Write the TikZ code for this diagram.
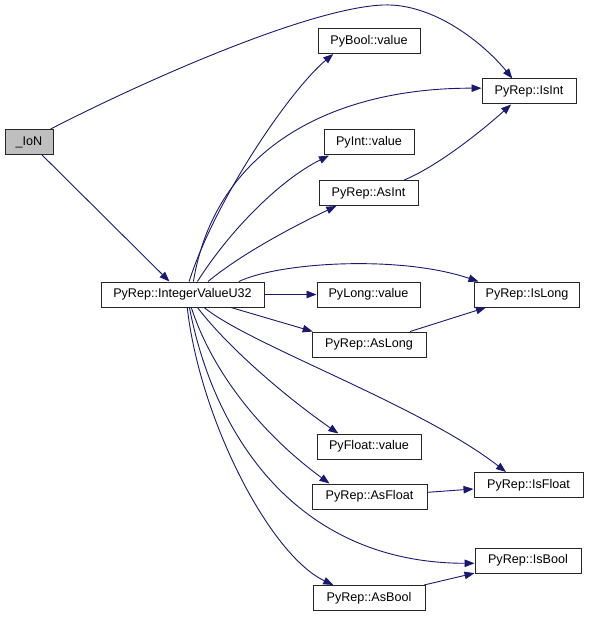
\documentclass[tikz,border=0pt]{standalone}
\usepackage{fontspec}
\setmainfont{Liberation Sans}
\usetikzlibrary{arrows.meta}
\definecolor{edgeblue}{HTML}{191970}
\definecolor{iongray}{HTML}{BFBFBF}
\begin{document}
\begin{tikzpicture}[x=1pt,y=-1pt,
  box/.style={draw=black!85, line width=1pt, rectangle, minimum height=25pt, inner sep=0pt, font=\fontsize{12.6}{14}\selectfont, fill=white},
  e/.style={draw=edgeblue, line width=0.9pt, -{Triangle[length=10pt,width=7.5pt]}}]
\useasboundingbox[fill=white] (0,0) rectangle (588,617);
\node[box, fill=iongray, minimum width=48pt] (ion) at (29,142) {\_IoN};
\node[box, minimum width=163pt] (ivu) at (182.5,294.5) {PyRep::IntegerValueU32};
\node[box, minimum width=102pt] (pybool) at (369,41) {PyBool::value};
\node[box, minimum width=94pt] (isint) at (529,91.5) {PyRep::IsInt};
\node[box, minimum width=90pt] (pyint) at (369,142.5) {PyInt::value};
\node[box, minimum width=99pt] (asint) at (368.5,193) {PyRep::AsInt};
\node[box, minimum width=105pt] (islong) at (527,294.5) {PyRep::IsLong};
\node[box, minimum width=103pt] (pylong) at (368.5,294.5) {PyLong::value};
\node[box, minimum width=114pt] (aslong) at (369,344.5) {PyRep::AsLong};
\node[box, minimum width=104pt] (pyfloat) at (369,446.5) {PyFloat::value};
\node[box, minimum width=109pt] (isfloat) at (528.5,485) {PyRep::IsFloat};
\node[box, minimum width=115pt] (asfloat) at (369.5,496.5) {PyRep::AsFloat};
\node[box, minimum width=106pt] (isbool) at (528,560.5) {PyRep::IsBool};
\node[box, minimum width=112pt] (asbool) at (369,598) {PyRep::AsBool};
\coordinate (peak) at (383,5);

\draw[e] (ion.31) .. controls (150,78) and (310,8) .. (peak) .. controls (435,3) and (485,45) .. (isint.142);
\draw[e] (ion) -- (ivu);
\draw[e] (ivu.63) .. controls (215,200) and (290,90) .. (pybool.200);
\draw[e] (ivu.50) .. controls (215,150) and (330,88) .. (isint.176);
\draw[e] (ivu.41) .. controls (230,230) and (280,180) .. (pyint.198);
\draw[e] (ivu.27) .. controls (240,255) and (290,228) .. (asint.202);
\draw[e] (asint.20) .. controls (440,165) and (485,128) .. (isint.216);
\draw[e] (ivu.13) .. controls (280,262) and (400,255) .. (islong.165);
\draw[e] (ivu.east) -- (pylong.west);
\draw[e] (ivu.345) -- (aslong.167);
\draw[e] (aslong) -- (islong);
\draw[e] (ivu.329) .. controls (250,345) and (420,405) .. (isfloat.150);
\draw[e] (ivu.319) .. controls (230,350) and (290,400) .. (pyfloat.157);
\draw[e] (ivu.304) .. controls (215,380) and (270,440) .. (asfloat.162);
\draw[e] (asfloat) -- (isfloat);
\draw[e] (ivu.298) .. controls (215,440) and (300,563) .. (isbool.183);
\draw[e] (ivu.290) .. controls (200,420) and (270,555) .. (asbool.160);
\draw[e] (asbool) -- (isbool);
\end{tikzpicture}
\end{document}
